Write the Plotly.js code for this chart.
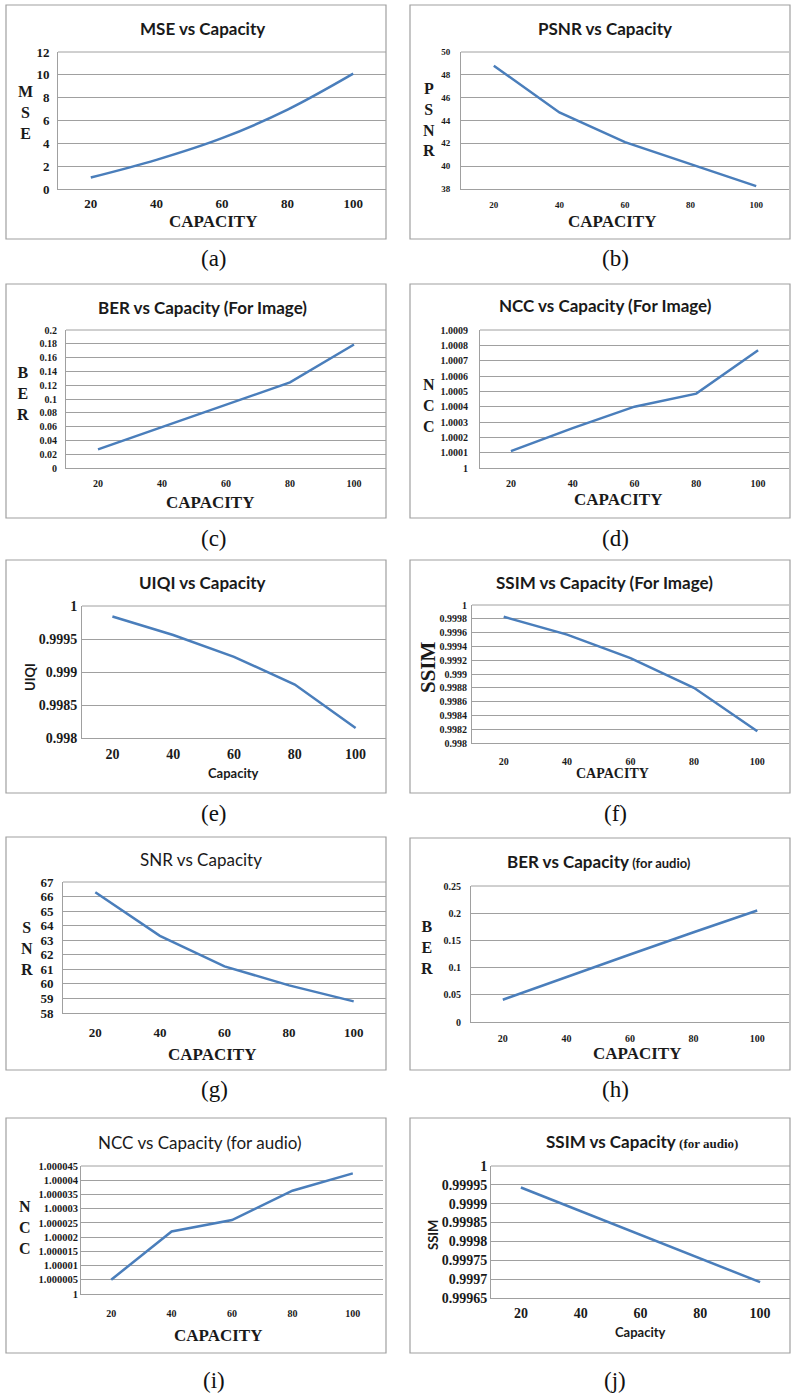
<!DOCTYPE html>
<html>
<head>
<meta charset="utf-8">
<script src="https://cdn.plot.ly/plotly-3.0.1.min.js"></script>
<style>html,body{margin:0;padding:0;background:#fff;}#chart{width:793px;height:1394px;}</style>
</head>
<body>
<div id="chart"></div>
<script>
// ---------- data ----------
const categories = ['20', '40', '60', '80', '100'];

const mseValues       = [1.0, 2.55, 4.45, 6.95, 10.1];
const psnrValues      = [48.8, 44.7, 42.1, 40.2, 38.25];
const berImageValues  = [0.027, 0.059, 0.091, 0.124, 0.179];
const nccImageValues  = [1.00011, 1.00026, 1.0004, 1.000485, 1.000768];
const uiqiValues      = [0.99984, 0.99956, 0.99923, 0.99881, 0.99815];
const ssimImageValues = [0.99983, 0.99957, 0.99923, 0.9988, 0.99817];
const snrValues       = [66.3, 63.3, 61.2, 59.9, 58.8];
const berAudioValues  = [0.041, 0.083, 0.124, 0.165, 0.205];
const nccAudioValues  = [1.000005, 1.000022, 1.000026, 1.0000363, 1.0000424];
const ssimAudioValues = [0.999943, 0.99988, 0.999817, 0.999755, 0.999692];

const mseTicks = [0, 2, 4, 6, 8, 10, 12];
const mseTickLabels = ['0', '2', '4', '6', '8', '10', '12'];
const psnrTicks = [38, 40, 42, 44, 46, 48, 50];
const psnrTickLabels = ['38', '40', '42', '44', '46', '48', '50'];
const berImageTicks = [0, 0.02, 0.04, 0.06, 0.08, 0.1, 0.12, 0.14, 0.16, 0.18, 0.2];
const berImageTickLabels = ['0', '0.02', '0.04', '0.06', '0.08', '0.1', '0.12', '0.14', '0.16', '0.18', '0.2'];
const nccImageTicks = [1, 1.0001, 1.0002, 1.0003, 1.0004, 1.0005, 1.0006, 1.0007, 1.0008, 1.0009];
const nccImageTickLabels = ['1', '1.0001', '1.0002', '1.0003', '1.0004', '1.0005', '1.0006', '1.0007', '1.0008', '1.0009'];
const uiqiTicks = [0.998, 0.9985, 0.999, 0.9995, 1];
const uiqiTickLabels = ['0.998', '0.9985', '0.999', '0.9995', '1'];
const ssimImageTicks = [0.998, 0.9982, 0.9984, 0.9986, 0.9988, 0.999, 0.9992, 0.9994, 0.9996, 0.9998, 1];
const ssimImageTickLabels = ['0.998', '0.9982', '0.9984', '0.9986', '0.9988', '0.999', '0.9992', '0.9994', '0.9996', '0.9998', '1'];
const snrTicks = [58, 59, 60, 61, 62, 63, 64, 65, 66, 67];
const snrTickLabels = ['58', '59', '60', '61', '62', '63', '64', '65', '66', '67'];
const berAudioTicks = [0, 0.05, 0.1, 0.15, 0.2, 0.25];
const berAudioTickLabels = ['0', '0.05', '0.1', '0.15', '0.2', '0.25'];
const nccAudioTicks = [1, 1.000005, 1.00001, 1.000015, 1.00002, 1.000025, 1.00003, 1.000035, 1.00004, 1.000045];
const nccAudioTickLabels = ['1', '1.000005', '1.00001', '1.000015', '1.00002', '1.000025', '1.00003', '1.000035', '1.00004', '1.000045'];
const ssimAudioTicks = [0.99965, 0.9997, 0.99975, 0.9998, 0.99985, 0.9999, 0.99995, 1];
const ssimAudioTickLabels = ['0.99965', '0.9997', '0.99975', '0.9998', '0.99985', '0.9999', '0.99995', '1'];

const panelTitles = ['<b>MSE vs Capacity</b>', '<b>PSNR vs Capacity</b>', '<b>BER vs Capacity (For Image)</b>',
  '<b>NCC vs Capacity (For Image)</b>', '<b>UIQI vs Capacity</b>', '<b>SSIM vs Capacity (For Image)</b>',
  'SNR vs Capacity', '<b>BER vs Capacity</b><span style="font-size:13px"><b> (for audio)</b></span>',
  'NCC vs Capacity (for audio)', '<b>SSIM vs Capacity</b>'];
const yTitles = ['M<br>S<br>E', 'P<br>S<br>N<br>R', 'B<br>E<br>R', 'N<br>C<br>C', 'UIQI', 'SSIM',
  'S<br>N<br>R', 'B<br>E<br>R', 'N<br>C<br>C', 'SSIM'];
const xTitles = ['CAPACITY', 'CAPACITY', 'CAPACITY', 'CAPACITY', 'Capacity', 'CAPACITY',
  'CAPACITY', 'CAPACITY', 'CAPACITY', 'Capacity'];
const subLabels = ['(a)', '(b)', '(c)', '(d)', '(e)', '(f)', '(g)', '(h)', '(i)', '(j)'];

// ---------- layout helpers (positions/styles) ----------
const W = 793, H = 1394;
const fx = x => x / W;
const fy = y => 1 - y / H;
const SERIF = 'Liberation Serif, Times New Roman, serif';
const SANS = 'Lato, Carlito, Calibri, sans-serif';
const LINE = '#4a7ebb';
const GRID = '#a0a0a0';

const series = [
  {y: mseValues, tv: mseTicks, tt: mseTickLabels, range: [0, 12], shape: 'spline'},
  {y: psnrValues, tv: psnrTicks, tt: psnrTickLabels, range: [38, 50]},
  {y: berImageValues, tv: berImageTicks, tt: berImageTickLabels, range: [0, 0.2]},
  {y: nccImageValues, tv: nccImageTicks, tt: nccImageTickLabels, range: [1, 1.0009]},
  {y: uiqiValues, tv: uiqiTicks, tt: uiqiTickLabels, range: [0.998, 1]},
  {y: ssimImageValues, tv: ssimImageTicks, tt: ssimImageTickLabels, range: [0.998, 1]},
  {y: snrValues, tv: snrTicks, tt: snrTickLabels, range: [58, 67]},
  {y: berAudioValues, tv: berAudioTicks, tt: berAudioTickLabels, range: [0, 0.25]},
  {y: nccAudioValues, tv: nccAudioTicks, tt: nccAudioTickLabels, range: [1, 1.000045]},
  {y: ssimAudioValues, tv: ssimAudioTicks, tt: ssimAudioTickLabels, range: [0.99965, 1]}
];

// plot rect [left,right,top,bottom], box [l,r,t,b], fonts & label positions
const geo = [
  {plot: [58, 386, 52, 189], box: [6, 386, 5, 239], yfs: 13, xfs: 13, ytl: 5, xtl: 2,
   title: [202, 28, 17], yt: [25, 113, 16, SERIF, 0], xt: [213, 222, 17, SERIF], sub: [214, 258]},
  {plot: [461, 789, 52, 189], box: [410, 790, 5, 239], yfs: 9, xfs: 9, ytl: 8, xtl: 7,
   title: [605, 28, 17], yt: [429, 120, 16, SERIF, 0], xt: [612, 222, 17, SERIF], sub: [615, 258]},
  {plot: [66, 386, 330, 468], box: [6, 386, 284, 518], yfs: 10, xfs: 10, ytl: 6, xtl: 6,
   title: [202, 307, 17], yt: [23, 393, 16, SERIF, 0], xt: [210, 502, 17, SERIF], sub: [214, 538]},
  {plot: [480, 789, 330, 468], box: [410, 790, 284, 518], yfs: 10, xfs: 10, ytl: 9, xtl: 6,
   title: [605, 306, 17], yt: [429, 405, 16, SERIF, 0], xt: [618, 500, 17, SERIF], sub: [615, 538]},
  {plot: [82, 386, 606, 738], box: [6, 386, 560, 793], yfs: 14, xfs: 14, ytl: 1, xtl: 3,
   title: [202, 582, 17], yt: [30, 677, 13, SANS, -90], xt: [233, 773, 13, SANS], sub: [214, 813]},
  {plot: [472, 789, 605, 743], box: [410, 790, 560, 793], yfs: 10, xfs: 10, ytl: 2, xtl: 9,
   title: [604, 582, 17], yt: [428, 667, 21, SERIF, -90], xt: [612, 773, 14, SERIF], sub: [615, 813]},
  {plot: [63, 386, 882, 1013], box: [6, 386, 837, 1070], yfs: 13, xfs: 13, ytl: 6, xtl: 7,
   title: [201, 859, 17], yt: [27, 948, 16, SERIF, 0], xt: [212, 1054, 17, SERIF], sub: [214, 1089]},
  {plot: [471, 789, 886, 1022], box: [410, 790, 838, 1070], yfs: 10, xfs: 10, ytl: 7, xtl: 7,
   title: [599, 861, 17], yt: [427, 947, 16, SERIF, 0], xt: [637, 1053, 17, SERIF], sub: [615, 1089]},
  {plot: [81, 383, 1166, 1294], box: [6, 386, 1118, 1353], yfs: 10.5, xfs: 10, ytl: 0, xtl: 10,
   title: [199, 1142, 17], yt: [25, 1227, 16, SERIF, 0], xt: [218, 1335, 17, SERIF], sub: [214, 1380]},
  {plot: [491, 790, 1166, 1298], box: [410, 790, 1118, 1353], yfs: 14, xfs: 14, ytl: 0, xtl: 2,
   title: [642, 1141, 17], yt: [433, 1235, 13, SANS, -90], xt: [640, 1332, 13, SANS], sub: [615, 1380]}
];

const traces = [];
const layout = {
  width: W, height: H,
  margin: {l: 0, r: 0, t: 0, b: 0},
  paper_bgcolor: '#ffffff', plot_bgcolor: '#ffffff',
  showlegend: false,
  annotations: [], shapes: []
};

series.forEach((s, i) => {
  const g = geo[i];
  const n = i === 0 ? '' : String(i + 1);
  traces.push({
    type: 'scatter', mode: 'lines', x: categories, y: s.y,
    xaxis: 'x' + n, yaxis: 'y' + n,
    line: {color: LINE, width: 2.5, shape: s.shape || 'linear'},
    hoverinfo: 'x+y'
  });
  const [l, r, t, b] = g.plot;
  layout['xaxis' + n] = {
    domain: [fx(l), fx(r)], anchor: 'y' + n, type: 'category', range: [-0.5, 4.5],
    showgrid: false, zeroline: false, showline: true, linecolor: GRID, linewidth: 1,
    ticks: 'outside', ticklen: g.xtl, tickcolor: 'rgba(0,0,0,0)',
    tickfont: {family: SERIF, size: g.xfs, color: '#1a1a1a', weight: 'bold'}, fixedrange: true
  };
  layout['yaxis' + n] = {
    domain: [fy(b), fy(t)], anchor: 'x' + n, range: s.range,
    tickvals: s.tv, ticktext: s.tt,
    showgrid: true, gridcolor: GRID, gridwidth: 1, zeroline: false,
    showline: true, linecolor: GRID, linewidth: 1,
    ticks: 'outside', ticklen: g.ytl, tickcolor: 'rgba(0,0,0,0)',
    tickfont: {family: SERIF, size: g.yfs, color: '#1a1a1a', weight: 'bold'}, fixedrange: true
  };
  // frame
  const [bl, br, bt, bb] = g.box;
  layout.shapes.push({type: 'rect', xref: 'paper', yref: 'paper', x0: fx(bl), x1: fx(br), y0: fy(bb), y1: fy(bt),
    line: {color: '#a0a0a0', width: 1.2}, fillcolor: 'rgba(0,0,0,0)', layer: 'below'});
  // top grid (edge) line
  layout.shapes.push({type: 'line', xref: 'paper', yref: 'paper', x0: fx(l), x1: fx(r), y0: fy(t), y1: fy(t),
    line: {color: GRID, width: 1}});
  const ann = (text, x, y, font, extra) => layout.annotations.push(Object.assign({
    text, x: fx(x), y: fy(y), xref: 'paper', yref: 'paper', xanchor: 'center', yanchor: 'middle',
    showarrow: false, font}, extra || {}));
  let titleText = panelTitles[i];
  if (i === 9) titleText += '<span style="font-family:Liberation Serif;font-size:13px"><b> (for audio)</b></span>';
  ann(titleText, g.title[0], g.title[1], {family: SANS, size: g.title[2], color: '#1a1a1a'});
  const ytFont = {family: g.yt[3], size: g.yt[2], color: '#1a1a1a', weight: 'bold'};
  ann(yTitles[i], g.yt[0], g.yt[1], ytFont, {textangle: g.yt[4]});
  ann(xTitles[i], g.xt[0], g.xt[1], {family: g.xt[3], size: g.xt[2], color: '#1a1a1a', weight: 'bold'});
  ann(subLabels[i], g.sub[0], g.sub[1], {family: SERIF, size: 23, color: '#111111'});
});

Plotly.newPlot('chart', traces, layout, {staticPlot: true, displayModeBar: false});
</script>
</body>
</html>
